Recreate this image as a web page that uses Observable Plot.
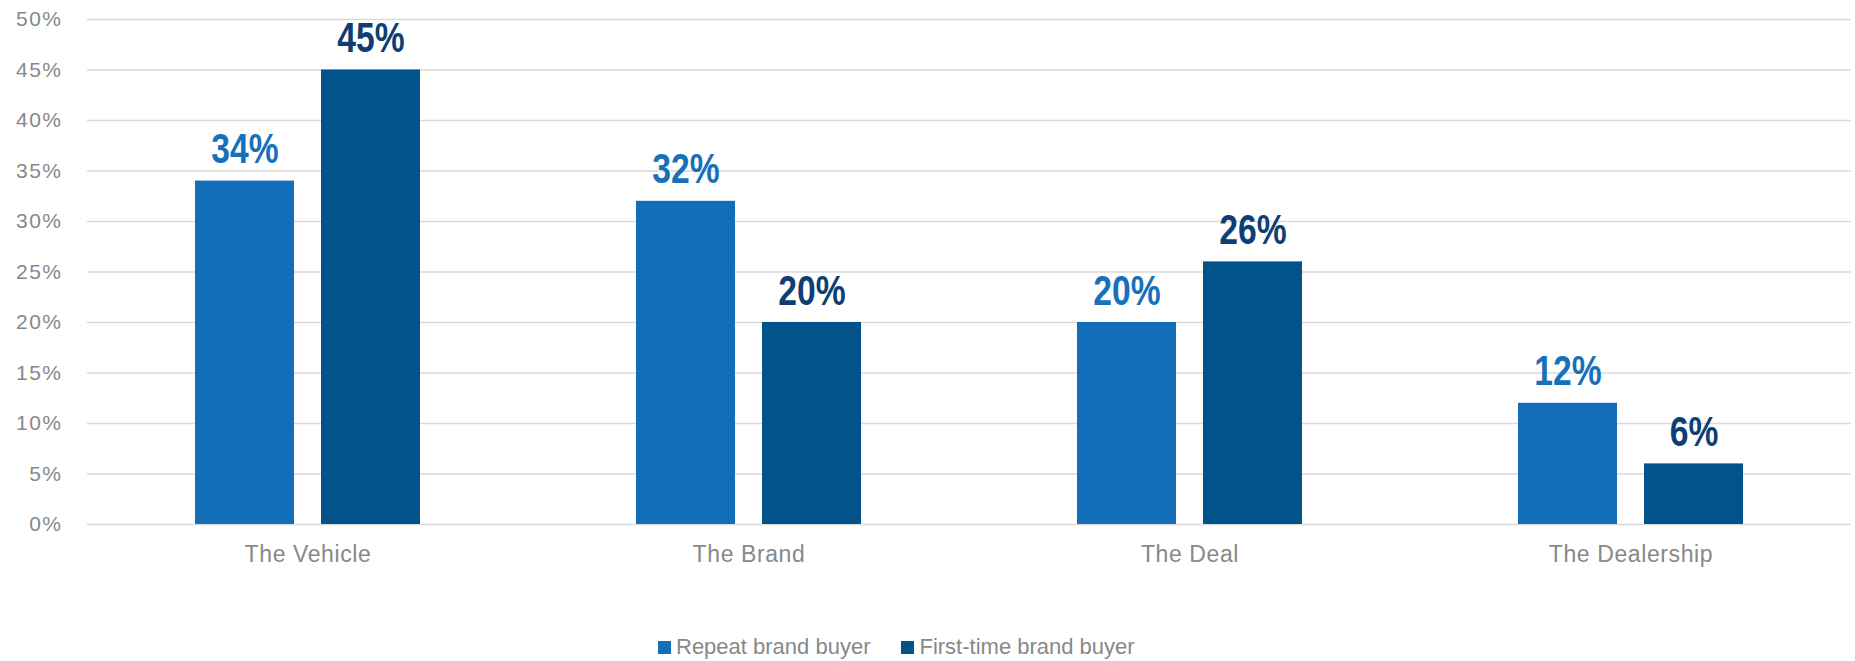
<!DOCTYPE html>
<html>
<head>
<meta charset="utf-8">
<script src="https://cdn.jsdelivr.net/npm/d3@7"></script>
<script src="https://cdn.jsdelivr.net/npm/@observablehq/plot@0.6"></script>
<style>
  html, body { margin: 0; padding: 0; background: #fff; }
  body { width: 1855px; height: 661px; position: relative; overflow: hidden; font-family: "Liberation Sans", Arial, sans-serif; }
  #chart svg { display: block; }
  #chart g[aria-label^="y-axis"] text { font-size: 21px; letter-spacing: 1.5px; }
  #chart g[aria-label^="fx-axis"] text { font-size: 23px; letter-spacing: 0.6px; }
  #legend { position: absolute; left: 658px; top: 634px; display: flex; align-items: center; font-size: 22px; color: #888; white-space: nowrap; }
  #legend .item { display: flex; align-items: center; margin-right: 31px; }
  #legend .sw { width: 13px; height: 13px; margin-right: 5px; }
</style>
</head>
<body>
<div id="chart"></div>
<div id="legend"></div>
<script>
const categories = ["The Vehicle", "The Brand", "The Deal", "The Dealership"];
const series = ["Repeat brand buyer", "First-time brand buyer"];
const repeatValues = [34, 32, 20, 12];
const firstTimeValues = [45, 20, 26, 6];
const yTicks = [0, 5, 10, 15, 20, 25, 30, 35, 40, 45, 50];

const barColors = ["#126EB8", "#02538A"];
const labelColors = ["#1670BA", "#0D3F75"];

const data = [];
categories.forEach((c, i) => {
  data.push({category: c, series: series[0], value: repeatValues[i]});
  data.push({category: c, series: series[1], value: firstTimeValues[i]});
});

const labelFont = "'Liberation Sans', Arial, sans-serif";

const chart = Plot.plot({
  width: 1855,
  height: 620,
  marginTop: 19,
  marginBottom: 96,
  marginLeft: 86,
  marginRight: 3,
  style: {fontFamily: "'Liberation Sans', Arial, sans-serif", fontSize: "22px", color: "#888", background: "#fff"},
  facet: {data: data, x: "category"},
  fx: {domain: categories, padding: 0, axis: "bottom", tickSize: 0, tickPadding: 21, label: null},
  x: {domain: series, paddingInner: 0.214, paddingOuter: 0.857, axis: null},
  y: {domain: [0, 50], ticks: yTicks, tickFormat: d => d + "%", tickSize: 0, tickPadding: 25, label: null},
  color: {domain: series, range: barColors},
  marks: [
    Plot.ruleY(yTicks, {stroke: "#d9d9d9", strokeWidth: 1.4}),
    Plot.barY(data, {x: "series", y: "value", fill: "series"}),
    Plot.text(data, {filter: d => d.series === series[0], x: "series", y: "value", text: d => d.value + "%",
      lineAnchor: "bottom", dy: -18, fill: labelColors[0], fontSize: 42, fontWeight: "bold",
      fontFamily: labelFont, className: "vlabel"}),
    Plot.text(data, {filter: d => d.series === series[1], x: "series", y: "value", text: d => d.value + "%",
      lineAnchor: "bottom", dy: -18, fill: labelColors[1], fontSize: 42, fontWeight: "bold",
      fontFamily: labelFont, className: "vlabel"})
  ]
});
document.getElementById("chart").appendChild(chart);

// condense the bold value labels (narrow bold look)
chart.querySelectorAll('g[aria-label="text"] text').forEach(t => {
  const w = t.getComputedTextLength();
  t.setAttribute("textLength", (w * 0.8).toFixed(1));
  t.setAttribute("lengthAdjust", "spacingAndGlyphs");
});

const legend = document.getElementById("legend");
series.forEach((s, i) => {
  const item = document.createElement("div");
  item.className = "item";
  const sw = document.createElement("div");
  sw.className = "sw";
  sw.style.background = barColors[i];
  const label = document.createElement("span");
  label.textContent = s;
  item.appendChild(sw);
  item.appendChild(label);
  legend.appendChild(item);
});
</script>
</body>
</html>
